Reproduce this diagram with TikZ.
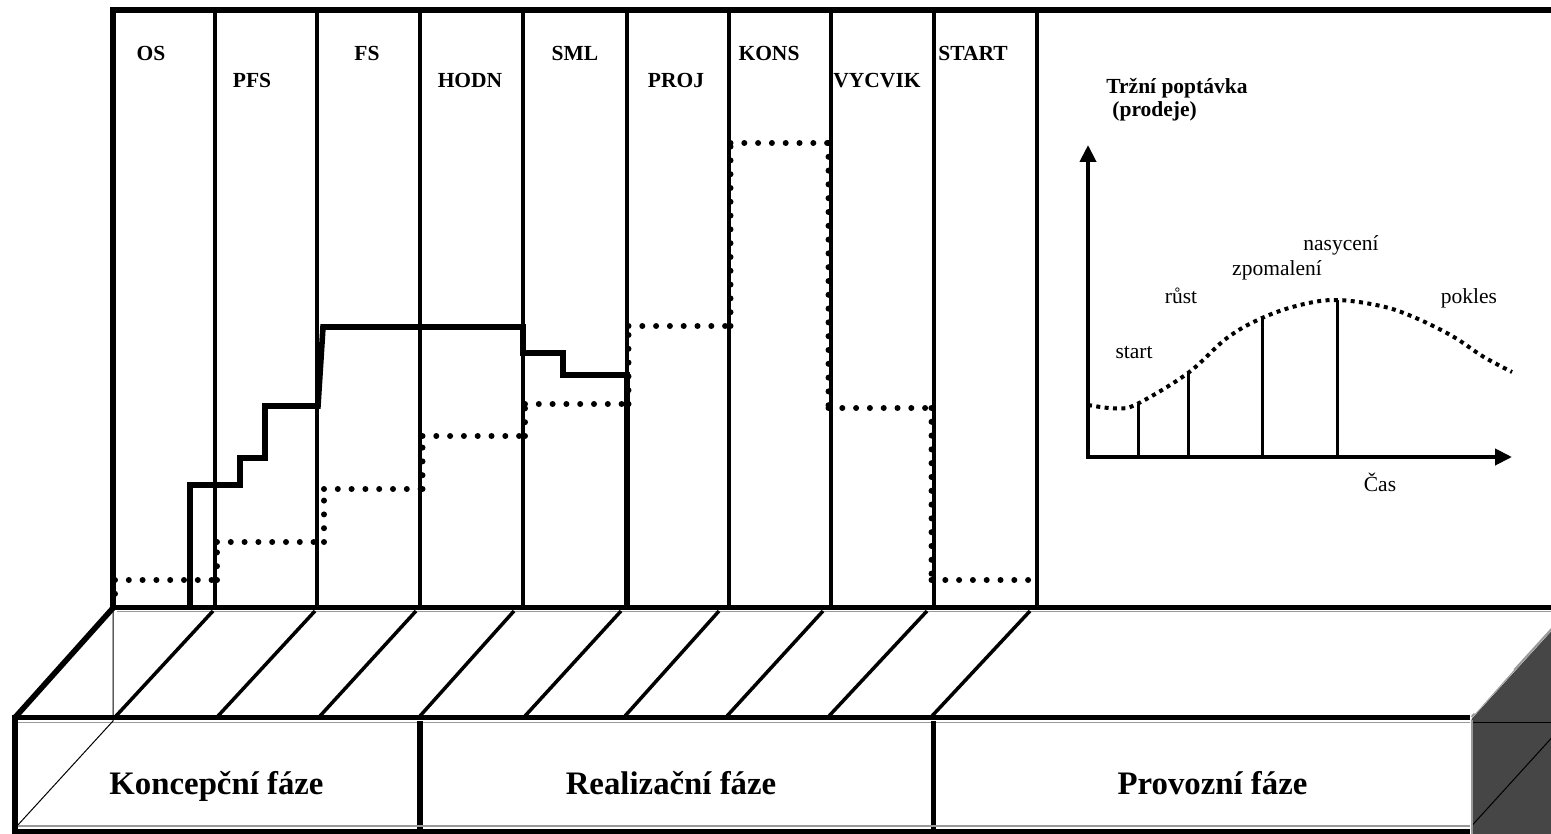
\documentclass[tikz,border=0pt]{standalone}
\usepackage{fontspec}
\setmainfont{Liberation Serif}
\usetikzlibrary{arrows.meta}
\definecolor{edgegray}{gray}{0.6}
\definecolor{sidegray}{HTML}{464646}
\begin{document}
\begin{tikzpicture}[x=0.5pt,y=-0.5pt,
  frame/.style={line width=3pt, line join=miter},
  divider/.style={line width=1.6pt},
  edge/.style={line width=2.8pt, line join=miter},
  thinedge/.style={line width=0.5pt},
  shade/.style={line width=0.6pt, draw=edgegray},
  hatch/.style={line width=1.75pt},
  stepline/.style={line width=2.8pt, line join=miter},
  dotline/.style={line width=3pt, line cap=round, dash pattern=on 0pt off 6.9pt},
  axis/.style={line width=2pt, line join=miter, >={Triangle[width=8pt,length=8.5pt]}},
  tick/.style={line width=1.5pt},
  curve/.style={line width=2pt, dash pattern=on 2pt off 2.2pt},
  phase/.style={font=\bfseries\fontsize{10.75}{12}\selectfont, anchor=base, inner sep=0pt},
  stage/.style={font=\fontsize{10.75}{12}\selectfont, anchor=base, inner sep=0pt},
  bigphase/.style={font=\bfseries\fontsize{16.4}{18}\selectfont, anchor=base, inner sep=0pt}
]
\useasboundingbox (0,0) rectangle (1551,834);
\clip (0,0) rectangle (1551,834);

% ---- upper panel: frame and columns ----
\draw[frame] (113,608) -- (113,10) -- (1560,10);
\foreach \x in {215,317,420,523,627,729,831,934}
  \draw[divider] (\x,10) -- (\x,606);
\draw[line width=2pt] (1037,10) -- (1037,606);

% column labels
\node[phase] (os)    at (151,61)  {OS};
\node[phase] (pfs)   at (252,88)  {PFS};
\node[phase] (fs)    at (367,61)  {FS};
\node[phase] (hodn)  at (470,88)  {HODN};
\node[phase] (sml)   at (575,61)  {SML};
\node[phase] (proj)  at (676,88)  {PROJ};
\node[phase] (kons)  at (769,61)  {KONS};
\node[phase] (vycvik) at (877,88) {VYCVIK};
\node[phase] (start) at (973,61)  {START};

% solid step profile
\draw[stepline] (190,606) -- (190,485) -- (240,485) -- (240,458) -- (265,458)
  -- (265,406) -- (318,406) -- (323,327) -- (523,327) -- (523,353) -- (563,353)
  -- (563,375) -- (627,375) -- (627,606);

% dotted step profile (each segment restarts its dot pattern at the corner)
\draw[dotline]
  (115,580) -- (115,598)
  (115,580) -- (217,580)
  (217,580) -- (217,542)
  (217,542) -- (324,542)
  (324,542) -- (324,489)
  (324,489) -- (422.5,489)
  (422.5,489) -- (422.5,436)
  (422.5,436) -- (525,436)
  (525,436) -- (525,404)
  (525,404) -- (628.5,404)
  (628.5,404) -- (628.5,326)
  (628.5,326) -- (730.5,326)
  (730.5,326) -- (730.5,143)
  (730.5,143) -- (828.5,143)
  (828.5,143) -- (828.5,408)
  (828.5,408) -- (931.5,408)
  (931.5,408) -- (931.5,580)
  (931.5,580) -- (1033,580);

% ---- market demand chart ----
\node[phase, anchor=base west] (title1) at (1106,94) {Tržní poptávka};
\node[phase, anchor=base west] (title2) at (1112,116.5) {(prodeje)};
\draw[axis, <->] (1088,145) -- (1088,457) -- (1512,457);
\draw[tick] (1138,457) -- (1138,404);
\draw[tick] (1188,457) -- (1188,373);
\draw[tick] (1262,457) -- (1262,318);
\draw[tick] (1337,457) -- (1337,300);
\draw[curve] plot[smooth, tension=0.6] coordinates {
  (1088,405) (1117,408.5) (1138,403.5) (1188,373) (1227,338) (1262,318)
  (1300,305) (1337,300) (1383,306.5) (1417,318.5) (1453,336.5) (1483,356.5) (1512,372)};
\node[stage] (l-start) at (1134,358)  {start};
\node[stage] (l-rust)  at (1181,303)  {růst};
\node[stage] (l-zpom)  at (1277,275.5) {zpomalení};
\node[stage] (l-nas)   at (1341,250)  {nasycení};
\node[stage] (l-pok)   at (1469,303.5) {pokles};
\node[stage] (l-cas)   at (1380,491.5) {Čas};

% ---- lower 3D bar ----
% right side face
\fill[sidegray] (1471.5,719) -- (1571.5,609) -- (1571.5,845) -- (1471.5,845) -- cycle;
\draw[thinedge] (1471.5,722.5) -- (1571.5,722.5);
\draw[thinedge] (1471.5,826) -- (1571.5,716);
\draw[line width=1pt, draw=edgegray] (1471.5,717) -- (1571.5,607);
\draw[line width=1.2pt, white] (1474,713) -- (1513,669);
\draw[line width=1pt, draw=edgegray] (1471.5,720) -- (1471.5,840);

% top face: back edge, hatching, front edge
\draw[edge] (113,607.5) -- (1560,607.5);
\draw[shade] (117,611.5) -- (1560,611.5);
\foreach \xa/\xb in {116/213, 218/315, 320/416, 420/514, 525/621, 625/719, 727/823, 829/927, 932/1030}
  \draw[hatch] (\xa,716) -- (\xb,611);
\draw[edge] (15,717.5) -- (113,608);
\draw[edge] (12,717.5) -- (1470,717.5);
\draw[shade] (18,722.5) -- (1470,722.5);

% hidden edges of the bar
\draw[thinedge] (113,611) -- (113,721) -- (17,826);

% front face
\draw[edge] (15,715) -- (15,840);
\draw[edge] (420,721) -- (420,840);
\draw[edge] (933.5,721) -- (933.5,840);
\draw[shade] (18,826) -- (1470,826);
\draw[edge] (12,831.5) -- (1470,831.5);

\node[bigphase] (konc) at (216.5,794) {Koncepční fáze};
\node[bigphase] (real) at (671,794)   {Realizační fáze};
\node[bigphase] (prov) at (1212.5,794) {Provozní fáze};
\end{tikzpicture}
\end{document}
